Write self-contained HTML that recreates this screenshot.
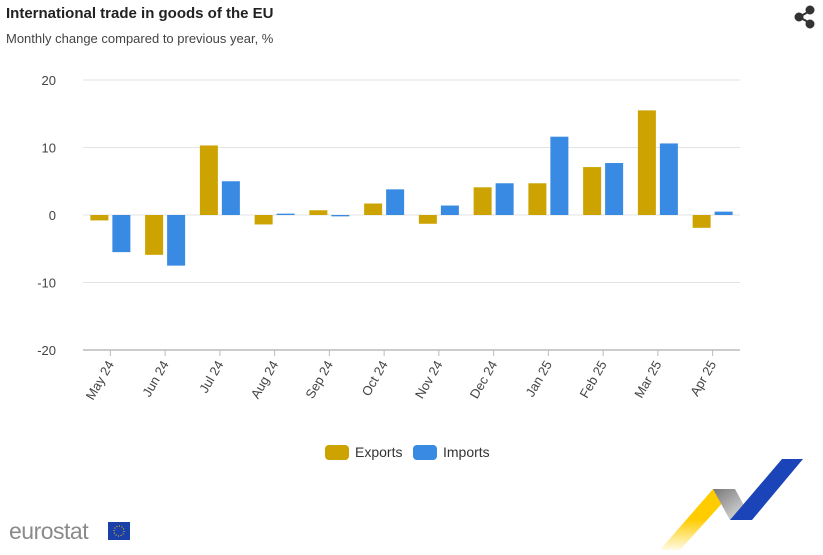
<!DOCTYPE html>
<html><head><meta charset="utf-8"><style>
body{margin:0;background:#fff;font-family:"Liberation Sans",sans-serif;}
</style></head><body>
<svg id="chart" width="823" height="550" xmlns="http://www.w3.org/2000/svg" font-family="Liberation Sans, sans-serif">
<text x="6" y="18" font-size="15" font-weight="bold" fill="#222">International trade in goods of the EU</text>
<text x="6" y="43" font-size="13" fill="#444">Monthly change compared to previous year, %</text>
<g fill="#333" stroke="#333" stroke-width="2">
<line x1="799" y1="17" x2="810" y2="11"/><line x1="799" y1="17" x2="810" y2="23"/>
<circle cx="799" cy="17" r="3.5"/><circle cx="810" cy="10" r="3.5"/><circle cx="810" cy="24" r="3.5"/>
</g>
<g id="grid"></g><g id="bars"></g><g id="xlabels"></g>
<g>
<g><rect x="325" y="445" width="24" height="15" rx="4" fill="#cca300"/><text x="355" y="457" font-size="14" fill="#333">Exports</text></g>
<g><rect x="413" y="445" width="24" height="15" rx="4" fill="#388ae2"/><text x="443" y="457" font-size="14" fill="#333">Imports</text></g>
</g>
<g>
<text x="9" y="539" font-size="23" fill="#8a8a8a" letter-spacing="-0.5">eurostat</text>
<rect x="108" y="522" width="22" height="18" fill="#1a3fa8"/>
<circle cx="119" cy="531" r="5" fill="none" stroke="#ffcc00" stroke-width="1" stroke-dasharray="1 1.6"/>
</g>
<g>
<defs><linearGradient id="yg" x1="0" y1="1" x2="0" y2="0"><stop offset="0" stop-color="#ffcc00" stop-opacity="0.1"/><stop offset="0.5" stop-color="#ffcc00"/></linearGradient>
<linearGradient id="gg" x1="0" y1="0" x2="1" y2="1"><stop offset="0" stop-color="#777"/><stop offset="1" stop-color="#eee"/></linearGradient></defs>
<polygon points="660,550 680,550 735,489 713,489" fill="url(#yg)"/>
<polygon points="713,489 735,489 752,520 730,520" fill="url(#gg)"/>
<polygon points="730,520 752,520 803,459 782,459" fill="#1a44b8"/>
</g>
</svg>
<script>
const categories=["May 24","Jun 24","Jul 24","Aug 24","Sep 24","Oct 24","Nov 24","Dec 24","Jan 25","Feb 25","Mar 25","Apr 25"];
const exportsVals=[-0.8,-5.9,10.3,-1.4,0.7,1.7,-1.3,4.1,4.7,7.1,15.5,-1.9];
const importsVals=[-5.5,-7.5,5.0,0.2,-0.2,3.8,1.4,4.7,11.6,7.7,10.6,0.5];
const yTicks=[20,10,0,-10,-20];
const NS="http://www.w3.org/2000/svg";
const L=83,R=740,T=80,B=350,yMin=-20,yMax=20;
const y=v=>T+(yMax-v)/(yMax-yMin)*(B-T);
const band=(R-L)/categories.length;
const x=i=>L+band*i;
function mk(t,a,p){const e=document.createElementNS(NS,t);for(const k in a)e.setAttribute(k,a[k]);p.appendChild(e);return e;}
const grid=document.getElementById('grid');
yTicks.forEach(t=>{
 const ln=mk('line',{x1:L,x2:R,y1:y(t),y2:y(t),stroke:t===-20?'#999':'#e3e3e3','stroke-width':1},grid);
 
 
 const tx=mk('text',{x:56,y:y(t)+5,'font-size':13,fill:'#444','text-anchor':'end'},grid);
 tx.textContent=t;
 
 
});
const bars=document.getElementById('bars');
const bw=18;
categories.forEach((c,i)=>{
 const cx=x(i)+band/2;
 [[exportsVals[i],'#cca300',cx-bw-2,'bar-exports'],[importsVals[i],'#388ae2',cx+2,'bar-imports']].forEach(([v,col,bx,n])=>{
  const r=mk('rect',{x:bx,y:Math.min(y(v),y(0)),width:bw,height:Math.max(Math.abs(y(v)-y(0)),0.5),fill:col},bars);
  
  
 });
 const tk=mk('line',{x1:cx,x2:cx,y1:B,y2:B+6,stroke:'#bbb'},bars);
 
 
 const tx=mk('text',{x:cx+4,y:B+14,'font-size':13,fill:'#444','text-anchor':'end',transform:`rotate(-60 ${cx+4} ${B+14})`},document.getElementById('xlabels'));
 tx.textContent=c;
 
 
});
</script>
</body></html>
